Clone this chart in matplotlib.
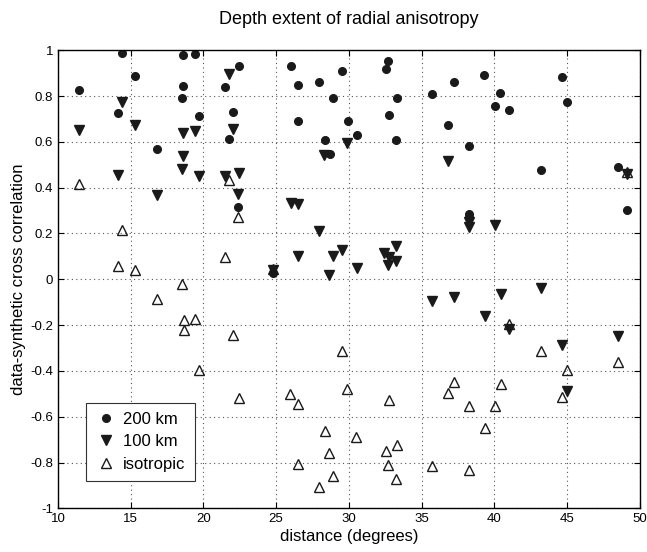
import matplotlib.pyplot as plt

plt.rcParams['font.family'] = ['Liberation Sans', 'DejaVu Sans']

# 200 km anisotropy
dist_200 = [11.43, 14.11, 14.38, 15.32, 16.83, 18.51, 18.60, 18.62, 19.42, 19.72,
            21.46, 21.78, 22.06, 22.36, 22.47, 24.81, 26.0, 26.5, 26.5, 27.94,
            28.34, 28.68, 28.91, 29.52, 29.92, 30.54, 32.55, 32.69, 32.76, 33.24,
            33.31, 35.71, 36.83, 37.22, 38.28, 38.28, 38.28, 39.31, 40.04, 40.38,
            41.0, 43.18, 44.67, 45.01, 48.47, 49.11]
corr_200 = [0.828, 0.726, 0.988, 0.889, 0.569, 0.790, 0.846, 0.978, 0.983, 0.715,
            0.840, 0.611, 0.729, 0.314, 0.929, 0.029, 0.933, 0.850, 0.690, 0.863,
            0.606, 0.545, 0.793, 0.908, 0.693, 0.632, 0.916, 0.955, 0.718, 0.607,
            0.793, 0.807, 0.674, 0.860, 0.584, 0.284, 0.270, 0.891, 0.757, 0.815,
            0.739, 0.477, 0.882, 0.772, 0.489, 0.301]

# 100 km anisotropy
dist_100 = [11.43, 14.11, 14.38, 15.32, 16.83, 18.51, 18.60, 18.62, 19.42, 19.72,
            21.46, 21.78, 22.06, 22.36, 22.47, 24.81, 26.0, 26.5, 26.5, 27.94,
            28.31, 28.66, 28.93, 29.52, 29.89, 30.54, 32.43, 32.71, 32.75, 33.22,
            33.24, 35.73, 36.83, 37.22, 38.28, 38.28, 39.33, 40.04, 40.43, 41.0,
            43.18, 44.67, 45.01, 48.47, 49.11]
corr_100 = [0.651, 0.456, 0.774, 0.672, 0.370, 0.480, 0.537, 0.639, 0.648, 0.450,
            0.453, 0.898, 0.654, 0.373, 0.462, 0.040, 0.335, 0.328, 0.100, 0.211,
            0.541, 0.017, 0.102, 0.128, 0.595, 0.048, 0.115, 0.061, 0.098, 0.080,
            0.144, -0.096, 0.515, -0.077, 0.250, 0.229, -0.160, 0.236, -0.066, -0.215,
            -0.036, -0.288, -0.489, -0.248, 0.461]

# isotropic
dist_iso = [11.43, 14.11, 14.38, 15.32, 16.81, 18.51, 18.64, 18.64, 19.42, 19.72,
            21.46, 21.78, 22.06, 22.36, 22.47, 24.81, 25.97, 26.5, 26.5, 27.97,
            28.34, 28.66, 28.93, 29.52, 29.89, 30.49, 32.55, 32.71, 32.77, 33.26,
            33.31, 35.71, 36.83, 37.22, 38.28, 38.28, 39.33, 40.04, 40.43, 41.0,
            43.18, 44.67, 45.01, 48.47, 49.11]
corr_iso = [0.415, 0.057, 0.214, 0.039, -0.084, -0.022, -0.176, -0.223, -0.172, -0.397,
            0.098, 0.432, -0.245, 0.272, -0.518, 0.047, -0.501, -0.545, -0.807, -0.905,
            -0.664, -0.757, -0.859, -0.311, -0.477, -0.689, -0.748, -0.810, -0.527, -0.873,
            -0.725, -0.817, -0.496, -0.450, -0.555, -0.831, -0.649, -0.552, -0.459, -0.194,
            -0.313, -0.514, -0.397, -0.361, 0.470]

xticks = [10, 15, 20, 25, 30, 35, 40, 45, 50]
yticks = [-1, -0.8, -0.6, -0.4, -0.2, 0, 0.2, 0.4, 0.6, 0.8, 1]
ylabels = ['-1', '-0.8', '-0.6', '-0.4', '-0.2', '0', '0.2', '0.4', '0.6', '0.8', '1']

fig = plt.figure(figsize=(6.47, 5.52), dpi=100)
ax = fig.add_axes([0.0895, 0.079, 0.8995, 0.830])

ax.plot(dist_200, corr_200, 'o', color='#1a1a1a', markersize=5.5, label='200 km')
ax.plot(dist_100, corr_100, 'v', color='#1a1a1a', markersize=6.8, label='100 km')
ax.plot(dist_iso, corr_iso, '^', color='#1a1a1a', markerfacecolor='none',
        markersize=6.8, markeredgewidth=1.0, label='isotropic')

ax.set_xlim(10, 50)
ax.set_ylim(-1, 1)
ax.set_xticks(xticks)
ax.set_yticks(yticks)
ax.set_yticklabels(ylabels)
ax.tick_params(direction='in', top=True, right=True, labelsize=9.5, length=4)
ax.grid(True, linestyle=(0, (1, 3)), color='#555555', linewidth=0.8)
for s in ax.spines.values():
    s.set_linewidth(1.0)

ax.set_title('Depth extent of radial anisotropy', fontsize=13, pad=19)
ax.set_xlabel('distance (degrees)', fontsize=12, labelpad=3)
ax.set_ylabel('data-synthetic cross correlation', fontsize=12, labelpad=3)

# legend box in the lower left, a bit roomier like the original
leg = ax.legend(loc='lower left', bbox_to_anchor=(0.048, 0.06), borderaxespad=0,
                fancybox=False, framealpha=1, edgecolor='#333333', fontsize=12,
                handletextpad=0.4, handlelength=1.3, borderpad=0.55, labelspacing=0.45)
leg.get_frame().set_linewidth(0.8)

plt.savefig('out.png', dpi=100)
